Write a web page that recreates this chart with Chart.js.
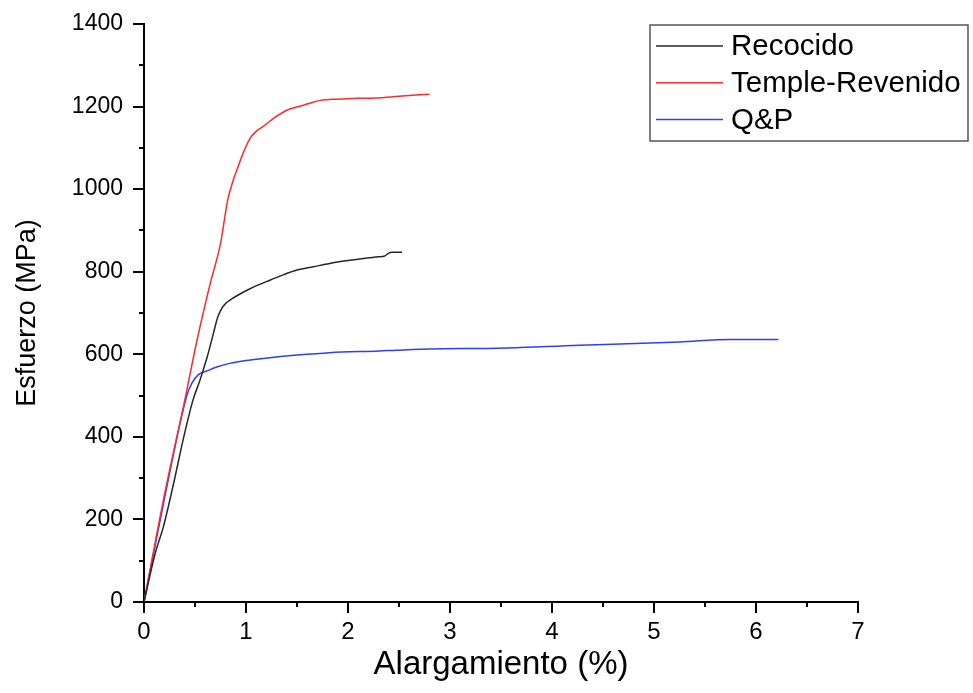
<!DOCTYPE html>
<html>
<head>
<meta charset="utf-8">
<script src="https://cdn.jsdelivr.net/npm/chart.js@4.4.1/dist/chart.umd.min.js"></script>
<style>
  html, body { margin: 0; padding: 0; background: #fff; }
  #wrap { width: 973px; height: 693px; }
</style>
</head>
<body>
<div id="wrap"><canvas id="chart" width="973" height="693"></canvas></div>
<script>
// Recocido
const recX = [0, 0.11, 0.19, 0.29, 0.39, 0.48, 0.55, 0.62, 0.68, 0.72, 0.76, 0.80, 0.86, 0.92, 1.01, 1.12, 1.24, 1.37, 1.50, 1.66, 1.82, 2.0, 2.15, 2.30, 2.36, 2.40, 2.43, 2.53];
const recY = [0, 118, 182, 287, 400, 489, 538, 594, 650, 688, 710, 723, 734, 743, 755, 768, 780, 793, 804, 812, 820, 827, 832, 836, 838, 845, 847, 847];

// Temple-Revenido
const temX = [0, 0.19, 0.40, 0.52, 0.65, 0.75, 0.82, 0.87, 0.91, 0.97, 1.04, 1.10, 1.17, 1.28, 1.40, 1.50, 1.60, 1.73, 1.90, 2.10, 2.28, 2.50, 2.80];
const temY = [0, 247, 489, 634, 772, 868, 973, 1018, 1046, 1086, 1123, 1140, 1152, 1173, 1191, 1199, 1206, 1215, 1218, 1220, 1221, 1225, 1230];

// Q&P
const qpX = [0, 0.20, 0.42, 0.47, 0.53, 0.62, 0.72, 0.84, 1.0, 1.17, 1.50, 1.82, 2.31, 2.48, 3.10, 3.29, 4.27, 5.25, 5.75, 6.22];
const qpY = [0, 250, 500, 530, 550, 560, 570, 578, 585, 590, 598, 604, 608, 610, 614, 614, 622, 630, 636, 636];

const seriesNames = ["Recocido", "Temple-Revenido", "Q&P"];
const seriesColors = ["#262626", "#ff2a2a", "#2f3dff"];

const xMin = 0, xMax = 7, xStep = 0.5;
const yMin = 0, yMax = 1400, yStep = 100;

const FONT = "'Liberation Sans', Arial, sans-serif";

function pts(xs, ys) {
  return xs.map((x, i) => ({ x: x, y: ys[i] }));
}

// ticks menores y mayores
const tickPlugin = {
  id: "ticks",
  afterDraw(chart) {
    const ctx = chart.ctx;
    const area = chart.chartArea;
    const xs = chart.scales.x, ys = chart.scales.y;
    ctx.save();
    ctx.strokeStyle = "#000";
    ctx.lineWidth = 2;
    ctx.beginPath();
    xs.ticks.forEach(t => {
      const px = Math.round(xs.getPixelForValue(t.value));
      const len = Math.abs(t.value - Math.round(t.value)) < 1e-6 ? 11 : 5;
      ctx.moveTo(px, area.bottom);
      ctx.lineTo(px, area.bottom + len);
    });
    ys.ticks.forEach(t => {
      const py = Math.round(ys.getPixelForValue(t.value));
      const len = t.value % 200 === 0 ? 11 : 5;
      ctx.moveTo(area.left, py);
      ctx.lineTo(area.left - len, py);
    });
    ctx.stroke();
    ctx.restore();
  }
};

// leyenda con recuadro
const legendPlugin = {
  id: "boxLegend",
  afterDraw(chart) {
    const ctx = chart.ctx;
    const left = 650, top = 25, w = 318, h = 116;
    ctx.save();
    ctx.strokeStyle = "#555";
    ctx.lineWidth = 1.5;
    ctx.strokeRect(left, top, w, h);
    ctx.font = "29.5px " + FONT;
    ctx.textBaseline = "middle";
    chart.data.datasets.forEach((ds, i) => {
      const y = 46 + i * 36.7;
      ctx.strokeStyle = ds.borderColor;
      ctx.lineWidth = 1.5;
      ctx.beginPath();
      ctx.moveTo(656, y);
      ctx.lineTo(723, y);
      ctx.stroke();
      ctx.fillStyle = "#000";
      ctx.fillText(ds.label, 731, y + 1);
    });
    ctx.restore();
  }
};

const ctx = document.getElementById("chart").getContext("2d");
new Chart(ctx, {
  type: "line",
  data: {
    datasets: [
      { label: seriesNames[0], data: pts(recX, recY), borderColor: seriesColors[0] },
      { label: seriesNames[1], data: pts(temX, temY), borderColor: seriesColors[1] },
      { label: seriesNames[2], data: pts(qpX, qpY), borderColor: seriesColors[2] }
    ].map(d => Object.assign(d, { borderWidth: 1.5, pointRadius: 0, cubicInterpolationMode: "monotone", fill: false }))
  },
  options: {
    responsive: false,
    animation: false,
    layout: { padding: { top: 24, right: 115, left: 0, bottom: 0 } },
    plugins: {
      legend: { display: false },
      tooltip: { enabled: false }
    },
    scales: {
      x: {
        type: "linear",
        min: xMin, max: xMax,
        afterFit(scale) { scale.height = 91; },
        border: { display: true, color: "#000", width: 2 },
        grid: { display: true, drawOnChartArea: false, drawTicks: true, tickLength: 11, tickColor: "rgba(0,0,0,0)" },
        ticks: {
          stepSize: xStep, autoSkip: false, maxRotation: 0, padding: 5,
          color: "#000", font: { family: FONT, size: 24 },
          callback: v => Number.isInteger(v) ? String(v) : ""
        },
        title: {
          display: true, text: "Alargamiento (%)", color: "#000",
          font: { family: FONT, size: 33 }, padding: { top: 0, bottom: 8 }
        }
      },
      y: {
        type: "linear",
        min: yMin, max: yMax,
        afterFit(scale) { scale.width = 144; },
        border: { display: true, color: "#000", width: 2 },
        grid: { display: true, drawOnChartArea: false, drawTicks: true, tickLength: 11, tickColor: "rgba(0,0,0,0)" },
        ticks: {
          stepSize: yStep, autoSkip: false, padding: 10,
          color: "#000", font: { family: FONT, size: 23 },
          callback: v => v % 200 === 0 ? String(v) : ""
        },
        title: {
          display: true, text: "Esfuerzo (MPa)", color: "#000",
          font: { family: FONT, size: 27 }, padding: { top: 11, bottom: 0 }
        }
      }
    }
  },
  plugins: [tickPlugin, legendPlugin]
});
</script>
</body>
</html>
